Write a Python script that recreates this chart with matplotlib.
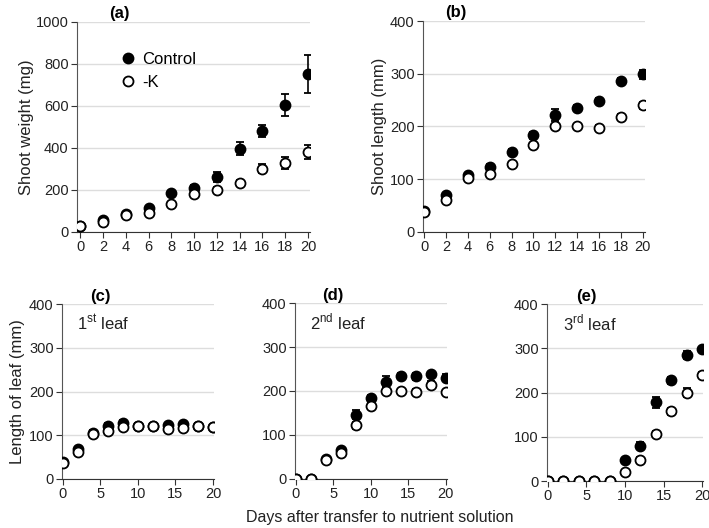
import numpy as np
import matplotlib.pyplot as plt
from matplotlib.lines import Line2D

plt.rcParams['font.family'] = ['Liberation Sans', 'DejaVu Sans']
plt.rcParams['mathtext.fontset'] = 'custom'
plt.rcParams['mathtext.rm'] = 'Liberation Sans'

days = [0, 2, 4, 6, 8, 10, 12, 14, 16, 18, 20]

# (a) shoot weight (mg)
wt_ctrl = [28, 54, 85, 114, 185, 209, 261, 396, 479, 602, 750]
wt_ctrl_err = [3, 5, 6, 8, 10, 12, 25, 30, 30, 53, 90]
wt_k = [27, 45, 78, 90, 133, 181, 201, 231, 301, 328, 380]
wt_k_err = [3, 4, 6, 6, 8, 10, 10, 15, 20, 30, 35]

# (b) shoot length (mm)
sl_ctrl = [40, 70, 107, 123, 152, 183, 222, 235, 248, 286, 299]
sl_ctrl_err = [3, 4, 5, 5, 6, 6, 12, 6, 6, 6, 8]
sl_k = [37, 61, 102, 109, 128, 164, 200, 200, 198, 218, 240]
sl_k_err = [3, 3, 4, 4, 5, 5, 5, 5, 5, 6, 6]

# (c) 1st leaf
l1_ctrl = [38, 68, 106, 122, 129, 122, 120, 124, 125, 122, 119]
l1_ctrl_err = [3, 4, 5, 5, 5, 5, 5, 5, 5, 5, 5]
l1_k = [37, 62, 102, 110, 118, 120, 120, 115, 117, 122, 118]
l1_k_err = [3, 4, 4, 4, 4, 4, 4, 4, 4, 4, 4]

# (d) 2nd leaf
l2_ctrl = [0, 0, 46, 65, 146, 183, 221, 235, 234, 238, 230]
l2_ctrl_err = [0, 0, 3, 4, 10, 8, 12, 6, 8, 6, 8]
l2_k = [0, 0, 44, 60, 122, 165, 200, 200, 198, 214, 198]
l2_k_err = [0, 0, 3, 3, 8, 6, 6, 5, 6, 8, 5]

# (e) 3rd leaf
l3_ctrl = [0, 0, 0, 0, 0, 47, 80, 178, 228, 285, 298]
l3_ctrl_err = [0, 0, 0, 0, 0, 5, 8, 12, 8, 8, 6]
l3_k = [0, 0, 0, 0, 0, 20, 48, 107, 158, 200, 240]
l3_k_err = [0, 0, 0, 0, 0, 6, 6, 6, 8, 10, 6]

fig = plt.figure(figsize=(7.09, 5.28), dpi=100)

ax1 = fig.add_axes([0.1086, 0.561, 0.329, 0.398])
ax2 = fig.add_axes([0.5966, 0.561, 0.313, 0.399])
ax3 = fig.add_axes([0.0874, 0.093, 0.214, 0.331])
ax4 = fig.add_axes([0.416, 0.093, 0.214, 0.333])
ax5 = fig.add_axes([0.7715, 0.089, 0.220, 0.335])

MS = 7.2


def draw(ax, yc, ec, yk, ek):
    ax.errorbar(days, yc, yerr=ec, fmt='o', color='black', ms=MS, mec='black',
                mfc='black', mew=1.3, capsize=3, elinewidth=1.2, capthick=1.2,
                zorder=3)
    ax.errorbar(days, yk, yerr=ek, fmt='o', color='black', ms=MS, mec='black',
                mfc='white', mew=1.3, capsize=3, elinewidth=1.2, capthick=1.2,
                zorder=4)
    ax.spines['top'].set_visible(False)
    ax.spines['right'].set_visible(False)
    ax.spines['left'].set_color('#555555')
    ax.spines['bottom'].set_color('#333333')
    ax.yaxis.grid(True, color='#dddddd', lw=1.0)
    ax.set_axisbelow(True)
    ax.tick_params(labelsize=10.5, length=4, color='#333333', pad=2)
    for lab in ax.get_xticklabels() + ax.get_yticklabels():
        lab.set_color('#222222')


draw(ax1, wt_ctrl, wt_ctrl_err, wt_k, wt_k_err)
ax1.set_xlim(-0.3, 20.2)
ax1.set_ylim(0, 1000)
ax1.set_xticks(days)
ax1.set_yticks([0, 200, 400, 600, 800, 1000])
ax1.set_ylabel('Shoot weight (mg)', fontsize=12, color='#222222', labelpad=1)
ax1.set_title('(a)', fontsize=12, fontweight='bold', x=0.18, y=0.98)
handles = [Line2D([], [], ls='none', marker='o', ms=MS, mec='black', mfc='black', mew=1.3),
           Line2D([], [], ls='none', marker='o', ms=MS, mec='black', mfc='white', mew=1.3)]
ax1.legend(handles, ['Control', '-K'], loc='upper left',
           bbox_to_anchor=(0.14, 0.895), frameon=False, fontsize=12,
           handletextpad=0.25, labelspacing=0.45, borderpad=0, handlelength=1.2)

draw(ax2, sl_ctrl, sl_ctrl_err, sl_k, sl_k_err)
ax2.set_xlim(-0.1, 20.2)
ax2.set_ylim(0, 400)
ax2.set_xticks(days)
ax2.set_yticks([0, 100, 200, 300, 400])
ax2.set_ylabel('Shoot length (mm)', fontsize=12, color='#222222', labelpad=2)
ax2.set_title('(b)', fontsize=12, fontweight='bold', x=0.15, y=0.98)

leaves = [(ax3, l1_ctrl, l1_ctrl_err, l1_k, l1_k_err, '(c)', r'1$^{\rm st}$ leaf'),
          (ax4, l2_ctrl, l2_ctrl_err, l2_k, l2_k_err, '(d)', r'2$^{\rm nd}$ leaf'),
          (ax5, l3_ctrl, l3_ctrl_err, l3_k, l3_k_err, '(e)', r'3$^{\rm rd}$ leaf')]
for ax, yc, ec, yk, ek, tag, txt in leaves:
    draw(ax, yc, ec, yk, ek)
    ax.set_xlim(-0.1, 20.1)
    ax.set_ylim(0, 400)
    ax.set_xticks([0, 5, 10, 15, 20])
    ax.set_yticks([0, 100, 200, 300, 400])
    ax.set_title(tag, fontsize=12, fontweight='bold', x=0.25, y=0.97)
    ax.text(0.1, 0.89, txt, transform=ax.transAxes, fontsize=12,
            color='#222222', va='center')

ax3.set_ylabel('Length of leaf (mm)', fontsize=12, color='#222222', labelpad=3)
fig.text(0.535, 0.019, 'Days after transfer to nutrient solution', ha='center',
         va='center', fontsize=11.5, color='#222222')

plt.savefig('out.png', dpi=100)
